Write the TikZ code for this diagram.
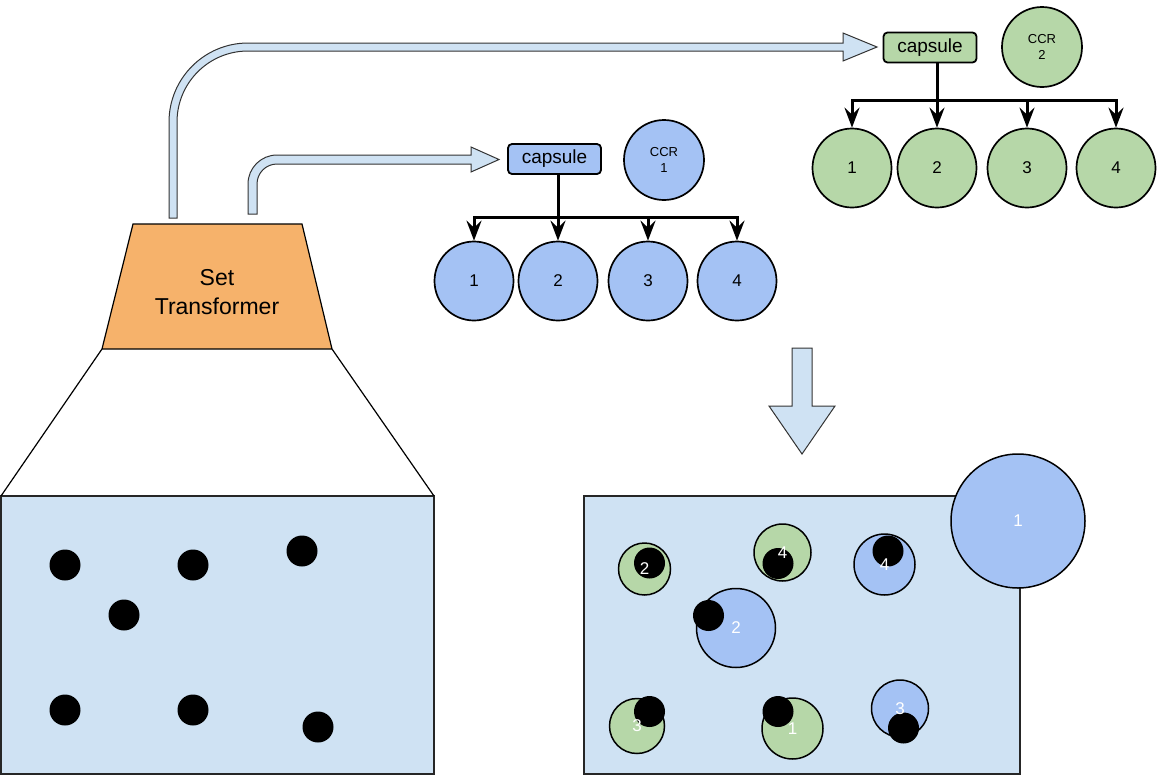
\documentclass[tikz,border=0pt]{standalone}
\usepackage{fontspec}
\setmainfont{Liberation Sans}
\usetikzlibrary{arrows.meta}
\definecolor{paleblue}{HTML}{CFE2F3}
\definecolor{capblue}{HTML}{A4C2F4}
\definecolor{capgreen}{HTML}{B6D7A8}
\definecolor{storange}{HTML}{F6B26B}

\begin{document}
\begin{tikzpicture}[x=1pt, y=1pt,
  capbox/.style={draw, line width=1.8pt, rounded corners=4pt, minimum width=93pt, minimum height=30pt, inner sep=0pt, font=\fontsize{19}{22}\selectfont},
  ccr/.style={draw, line width=1.7pt, circle, minimum size=80pt, inner sep=0pt, align=center, font=\fontsize{13}{16}\selectfont},
  part/.style={draw, line width=1.7pt, circle, minimum size=79pt, inner sep=0pt, font=\fontsize{17}{20}\selectfont},
  tree/.style={line width=3pt, line cap=rect},
  treearrow/.style={tree, -{Stealth[length=20pt, width=15pt, inset=7pt]}},
  fatarrow/.style={draw=black!80, line width=1pt, fill=paleblue},
  blob/.style={draw, line width=1.5pt, circle, inner sep=0pt},
  dot/.style={fill=black, circle, minimum size=31pt, inner sep=0pt},
  tag/.style={text=white, inner sep=0pt, font=\fontsize{17}{20}\selectfont}
]
\useasboundingbox (0,0) rectangle (1165,-782);

% input set
\draw[line width=1.3pt, draw=black!85, fill=paleblue] (1,-496) rectangle (434,-774);
\draw[line width=1.2pt] (102,-349) -- (1,-496);
\draw[line width=1.2pt] (332,-349) -- (434,-496);
\foreach \x/\y [count=\k] in {65/565, 193/565, 302/551, 124/615, 65/710, 193/710, 318/727}
  \node[dot] (p\k) at (\x,-\y) {};

% encoder
\draw[line width=1.2pt, fill=storange] (133,-224) -- (302,-224) -- (332,-349) -- (102,-349) -- cycle;
\node[align=center, font=\fontsize{23}{29.6}\selectfont] (st) at (217,-292) {Set\\Transformer};

% outputs to the capsules
\draw[fatarrow] (169,-218) -- (169,-122) arc[start angle=180, end angle=90, radius=79pt]
  -- (843,-43) -- (843,-33) -- (877,-47) -- (843,-61) -- (843,-51) -- (248,-51)
  arc[start angle=90, end angle=180, radius=71pt] -- (177,-218) -- cycle;
\draw[fatarrow] (248,-214) -- (248,-184) arc[start angle=180, end angle=90, radius=29pt]
  -- (471,-155) -- (471,-147) -- (499,-159.5) -- (471,-172) -- (471,-164) -- (277,-164)
  arc[start angle=90, end angle=180, radius=20pt] -- (257,-214) -- cycle;

% capsule 1
\node[capbox, fill=capblue] (capA) at (554.5,-159) {capsule};
\node[ccr, fill=capblue] (ccrA) at (664,-160) {CCR\\1};
\foreach \n/\x in {1/474, 2/558, 3/648, 4/737}
  \node[part, fill=capblue] (a\n) at (\x,-281) {\n};
\coordinate (barA) at (0,-217);
\draw[tree] (a1 |- barA) -- (a4 |- barA);
\draw[tree] (capA.south -| a2) -- (a2 |- barA);
\foreach \n in {1,...,4}
  \draw[treearrow] (a\n |- barA) -- (a\n.north);

% capsule 2
\node[capbox, fill=capgreen] (capB) at (930,-47.5) {capsule};
\node[ccr, fill=capgreen] (ccrB) at (1042,-47) {CCR\\2};
\foreach \n/\x in {1/852, 2/937, 3/1027, 4/1116}
  \node[part, fill=capgreen] (b\n) at (\x,-168) {\n};
\coordinate (barB) at (0,-100);
\draw[tree] (b1 |- barB) -- (b4 |- barB);
\draw[tree] (capB.south -| b2) -- (b2 |- barB);
\foreach \n in {1,...,4}
  \draw[treearrow] (b\n |- barB) -- (b\n.north);

% decoding
\draw[fatarrow] (792,-348) -- (812,-348) -- (812,-406) -- (835,-406) -- (802,-454) -- (769,-406) -- (792,-406) -- cycle;

% reconstruction
\draw[line width=1.3pt, draw=black!85, fill=paleblue] (584,-496) rectangle (1020,-774);
\node[blob, fill=capblue, minimum size=134pt] (r1) at (1018,-521) {};
\node[tag] at (r1) {1};

\foreach \c/\x/\y/\d/\dx/\dy/\t in {
    capgreen/644.5/569/52/649.5/563/2,
    capgreen/782.5/552.5/57/778/563.5/4,
    capblue/884.5/564.5/61/888/551/4,
    capblue/736/628/79/708.5/615.5/2,
    capgreen/637/726/55/649.5/711.5/3,
    capgreen/792.5/728.5/61/778/711.5/1,
    capblue/900/708.5/57/903.5/728/3}{
  \node[blob, fill=\c, minimum size=\d pt] (q) at (\x,-\y) {};
  \node[dot] (qd) at (\dx,-\dy) {};
  \node[tag] at (q) {\t};
}
\end{tikzpicture}
\end{document}
